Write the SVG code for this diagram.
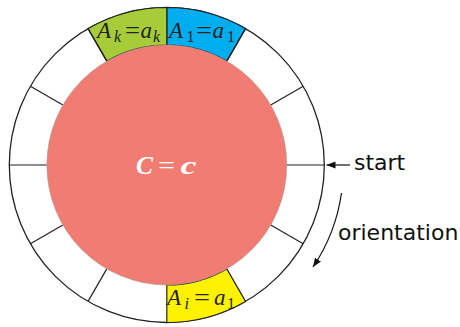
<svg xmlns="http://www.w3.org/2000/svg" width="460" height="327" viewBox="0 0 460 327">
<defs>
<style>
.seg{stroke:#222;stroke-width:1.2;}
.m{font-family:"Liberation Serif",serif;font-style:italic;font-size:23px;fill:#222;}
.eq{font-family:"Liberation Serif",serif;font-size:23px;fill:#222;}
.s{font-size:16px;}
.u{font-style:normal;}
.lbl{font-family:"DejaVu Sans",sans-serif;font-size:22px;fill:#111;}
.cm{font-family:"Liberation Serif",serif;font-style:italic;font-weight:bold;font-size:25px;fill:#fff;}
.ceq{font-family:"Liberation Serif",serif;font-size:25px;fill:#fff;}
</style>
<marker id="ah" viewBox="0 0 10 10" refX="10" refY="5" markerWidth="9" markerHeight="9" markerUnits="userSpaceOnUse" orient="auto">
<path d="M0,1 L10,5 L0,9 z" fill="#111"/>
</marker>
</defs>
<g id="ring">
<circle cx="166.8" cy="165" r="157.5" fill="#fff" stroke="#222" stroke-width="1.3"/>
</g>
<g id="sector-A1">
<path d="M166.8,7.5 A157.5,157.5 0 0 1 245.55,28.6 L226.8,61.1 A120,120 0 0 0 166.8,45 Z" fill="#00AEEF" class="seg"/>
</g>
<g id="sector-Ak">
<path d="M166.8,7.5 A157.5,157.5 0 0 0 88.05,28.6 L106.8,61.1 A120,120 0 0 1 166.8,45 Z" fill="#A6CC3A" class="seg"/>
</g>
<g id="sector-Ai">
<path d="M166.8,322.5 A157.5,157.5 0 0 0 245.55,301.4 L226.8,268.9 A120,120 0 0 1 166.8,285 Z" fill="#FFF200" class="seg"/>
</g>
<g id="dividers" class="seg">
<line x1="286.8" y1="165" x2="324.3" y2="165"/>
<line x1="270.7" y1="105" x2="303.2" y2="86.25"/>
<line x1="270.7" y1="225" x2="303.2" y2="243.75"/>
<line x1="62.9" y1="105" x2="30.4" y2="86.25"/>
<line x1="62.9" y1="225" x2="30.4" y2="243.75"/>
<line x1="46.8" y1="165" x2="9.3" y2="165"/>
<line x1="106.8" y1="268.9" x2="88.05" y2="301.4"/>
<line x1="226.8" y1="61.1" x2="245.55" y2="28.6"/>
<line x1="106.8" y1="61.1" x2="88.05" y2="28.6"/>
</g>
<g id="center">
<circle cx="166.8" cy="165" r="120" fill="#F07C72" stroke="#9a9a9a" stroke-width="0.5"/>
<text class="cm" x="136" y="174" textLength="17" lengthAdjust="spacingAndGlyphs">C</text>
<text class="ceq" x="158" y="174" textLength="17" lengthAdjust="spacingAndGlyphs">=</text>
<text class="cm" x="180.5" y="174" textLength="16" lengthAdjust="spacingAndGlyphs">c</text>
</g>
<g id="label-Ak">
<text class="m"><tspan x="97" y="38">A</tspan><tspan class="s" x="114" y="42">k</tspan></text>
<text class="eq" x="125" y="38" textLength="15" lengthAdjust="spacingAndGlyphs">=</text>
<text class="m"><tspan x="140.5" y="38">a</tspan><tspan class="s" x="153" y="42">k</tspan></text>
</g>
<g id="label-A1">
<text class="m"><tspan x="169" y="38">A</tspan><tspan class="s u" x="186.5" y="42">1</tspan></text>
<text class="eq" x="196" y="38" textLength="16" lengthAdjust="spacingAndGlyphs">=</text>
<text class="m"><tspan x="212.5" y="38">a</tspan><tspan class="s u" x="227" y="42">1</tspan></text>
</g>
<g id="label-Ai">
<text class="m"><tspan x="167" y="305">A</tspan><tspan class="s" x="184.5" y="309">i</tspan></text>
<text class="eq" x="194" y="305" textLength="16" lengthAdjust="spacingAndGlyphs">=</text>
<text class="m"><tspan x="214" y="305">a</tspan><tspan class="s u" x="227" y="309">1</tspan></text>
</g>
<g id="connectors" fill="none" stroke="#111" stroke-width="1.2">
<line x1="350" y1="165" x2="326.5" y2="165" marker-end="url(#ah)"/>
<path d="M341.5,193 A177,177 0 0 1 313,267" marker-end="url(#ah)"/>
</g>
<g id="labels">
<text class="lbl" x="354" y="170">start</text>
<text class="lbl" x="338" y="240">orientation</text>
</g>
</svg>
